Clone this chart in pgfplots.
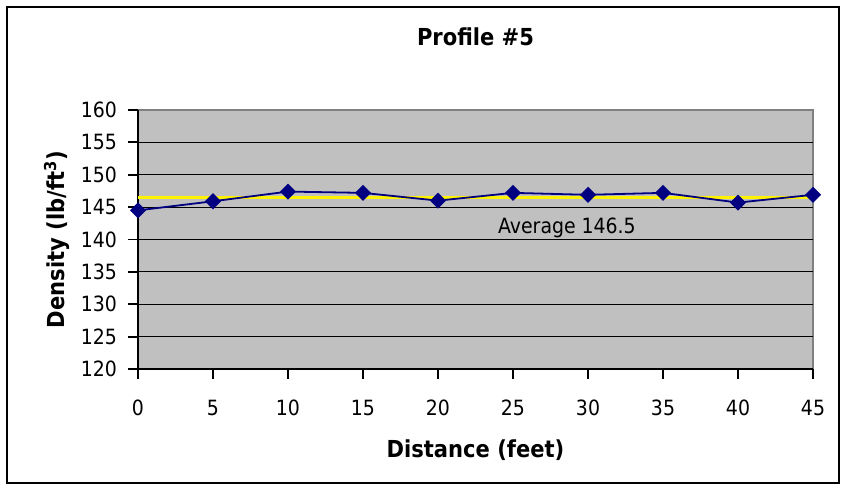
\documentclass[border=0pt]{standalone}
\usepackage{pgfplots}
\pgfplotsset{compat=1.18}
\usepackage{fontspec}
\setmainfont{DejaVu Sans Condensed}
\definecolor{plotgray}{HTML}{C0C0C0}
\definecolor{navyline}{HTML}{000080}
\definecolor{bordergray}{HTML}{808080}

\begin{document}
\begin{tikzpicture}
\useasboundingbox (0,0) rectangle (423pt,245pt);
\draw[line width=1pt] (3.5pt,3.5pt) rectangle (419.5pt,241.5pt);
\begin{axis}[
    at={(69pt,60.5pt)}, anchor=south west,
    scale only axis, width=337.5pt, height=129.5pt,
    xmin=0, xmax=45, ymin=120, ymax=160,
    clip=false,
    xtick={0,5,...,45},
    ytick={120,125,...,155},
    extra y ticks={160},
    extra y tick style={grid=none},
    axis background/.style={fill=plotgray, draw=bordergray, line width=1pt},
    axis x line*=bottom, axis y line*=left,
    axis line style={line width=0.9pt, black, -},
    ymajorgrids, grid style={black, line width=0.5pt},
    tick align=outside, major tick length=5pt,
    tick style={black, line width=0.9pt},
    /pgf/number format/assume math mode=true,
    ticklabel style={font=\fontsize{10.5}{12}\selectfont},
    xticklabel style={yshift=-7pt},
    yticklabel style={xshift=-2pt},
    title={Profile \#5},
    title style={font=\fontsize{11.7}{14}\selectfont\bfseries,
        at={(axis description cs:0.5,1)}, anchor=center, yshift=30.5pt},
    xlabel={Distance (feet)},
    xlabel style={font=\fontsize{11.7}{14}\selectfont\bfseries,
        at={(axis description cs:0.5,0)}, anchor=center, yshift=-40.5pt},
    ylabel={Density (lb/ft\textsuperscript{3})},
    ylabel style={font=\fontsize{11.7}{14}\selectfont\bfseries,
        at={(axis description cs:-0.12,0.5)}, anchor=center},
]
\addplot[yellow, line width=1.1pt] coordinates {(0,146.5) (45,146.5)};
\addplot[navyline, line width=0.9pt, mark=square*, mark size=2.4pt,
    mark options={rotate=45, fill=navyline}]
    coordinates {(0,144.5) (5,145.9) (10,147.4) (15,147.2) (20,146.0)
                 (25,147.2) (30,146.9) (35,147.2) (40,145.7) (45,146.9)};
\node[font=\fontsize{10.5}{12}\selectfont] at (axis cs:28.6,141.8) {Average 146.5};
\end{axis}
\end{tikzpicture}
\end{document}
